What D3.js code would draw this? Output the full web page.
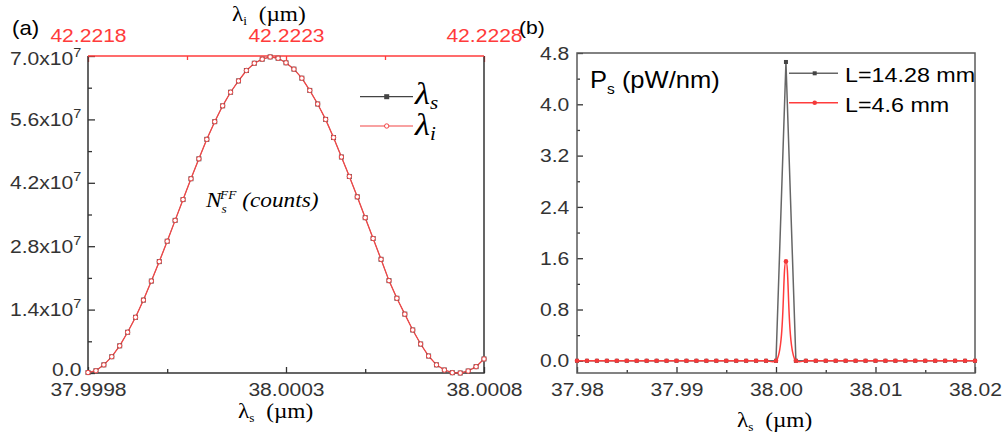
<!DOCTYPE html>
<html>
<head>
<meta charset="utf-8">
<script src="https://cdn.jsdelivr.net/npm/d3@7"></script>
<style>
  body { margin: 0; background: #fff; }
  svg text { white-space: pre; }
</style>
</head>
<body>
<svg id="fig" width="1006" height="441"></svg>
<script>
// ---------- Panel (a): far-field signal counts ----------
const sigStart = 37.9998;          // first signal wavelength (µm)
const idlStart = 42.2218;          // first idler wavelength (µm)
const gridStep = 0.00002;          // sampling step (µm)
const countsE7 = [0.01, 0.05, 0.18, 0.36, 0.60, 0.90, 1.23, 1.61, 2.03, 2.46,
                  2.91, 3.37, 3.83, 4.29, 4.73, 5.16, 5.55, 5.90, 6.20, 6.45,
                  6.68, 6.84, 6.93, 6.98, 6.95, 6.85, 6.71, 6.51, 6.24, 5.94,
                  5.60, 5.20, 4.77, 4.34, 3.89, 3.43, 2.97, 2.51, 2.04, 1.65,
                  1.30, 0.95, 0.64, 0.375, 0.18, 0.066, 0.007, 0.0, 0.044, 0.14,
                  0.31];
const sigTicksA = [37.9998, 38.0003, 38.0008];
const sigMinorA = [38.0000, 38.0005];
const idlTicksA = [42.2218, 42.2223, 42.2228];
const idlMinorA = [42.22205, 42.22255];
const yTicksA = [0, 1.4e7, 2.8e7, 4.2e7, 5.6e7, 7.0e7];
const yTickTextA = ["0.0", "1.4", "2.8", "4.2", "5.6", "7.0"];
const yMinorA = [0.7e7, 2.1e7, 3.5e7, 4.9e7, 6.3e7];

// ---------- Panel (b): signal power spectral density ----------
const psWl = [37.980, 37.981, 37.982, 37.983, 37.984, 37.985, 37.986, 37.987, 37.988, 37.989,
              37.990, 37.991, 37.992, 37.993, 37.994, 37.995, 37.996, 37.997, 37.998, 37.999,
              38.000, 38.001, 38.002, 38.003, 38.004, 38.005, 38.006, 38.007, 38.008, 38.009,
              38.010, 38.011, 38.012, 38.013, 38.014, 38.015, 38.016, 38.017, 38.018, 38.019,
              38.020];
const psLong  = [0,0,0,0,0,0,0,0,0,0, 0,0,0,0,0,0,0,0,0,0, 0,4.66,0,0,0,0,0,0,0,0, 0,0,0,0,0,0,0,0,0,0, 0];
const psShort = [0,0,0,0,0,0,0,0,0,0, 0,0,0,0,0,0,0,0,0,0, 0,1.55,0,0,0,0,0,0,0,0, 0,0,0,0,0,0,0,0,0,0, 0];
const xTicksB = [37.98, 37.99, 38.00, 38.01, 38.02];
const xMinorB = [37.985, 37.995, 38.005, 38.015];
const yTicksB = [0, 0.8, 1.6, 2.4, 3.2, 4.0, 4.8];
const yMinorB = [0.4, 1.2, 2.0, 2.8, 3.6, 4.4];
const legendB = ["L=14.28 mm", "L=4.6 mm"];

// ---------- styling ----------
const SANS = "'Liberation Sans', Arial, sans-serif";
const SERIF = "'Liberation Serif', 'DejaVu Serif', 'Times New Roman', serif";
const SX = 1.11;                 // horizontal text stretch of the figure
const RED = "#ff3b3b";
const RED_LINE = "#f24545";
const DARK = "#333";
const GREY = "#5a5a5a";

const svg = d3.select("#fig");
svg.append("rect").attr("width", 1006).attr("height", 441).attr("fill", "#fff");

function styleAxis(g, color, size) {
  g.select(".domain").remove();
  g.selectAll(".tick line").attr("stroke", color).attr("stroke-width", 1.3);
  g.selectAll(".tick text")
    .attr("fill", color)
    .attr("font-family", SANS)
    .attr("font-size", size)
    .attr("transform", `scale(${SX},1)`);
}

function label(x, y, parts, opts = {}) {
  const t = svg.append("text")
    .attr("transform", `translate(${x},${y}) scale(${SX},1)`)
    .attr("font-family", opts.family || SANS)
    .attr("font-size", opts.size || 18)
    .attr("font-style", opts.style || "normal")
    .attr("fill", opts.fill || "#000");
  parts.forEach(p => {
    t.append("tspan")
      .attr("dy", p.dy || 0)
      .attr("dx", p.dx || 0)
      .attr("font-size", p.size || null)
      .attr("font-style", p.style || null)
      .text(p.t);
  });
  return t;
}

// ================= Panel (a) =================
const xA = d3.scaleLinear().domain([sigStart, sigStart + gridStep * 50]).range([88, 484]);
const xAi = d3.scaleLinear().domain([idlStart, idlStart + gridStep * 50]).range([88, 484]);
const yA = d3.scaleLinear().domain([0, 7e7]).range([373, 56]);

const sigWl = countsE7.map((_, k) => sigStart + gridStep * k);
const idlWl = countsE7.map((_, k) => idlStart + gridStep * k);
const countsA = countsE7.map(v => v * 1e7);

// left axis
const gYA = svg.append("g").attr("transform", "translate(88,0)")
  .call(d3.axisLeft(yA).tickValues(yTicksA).tickSize(-7).tickPadding(6).tickFormat(""));
styleAxis(gYA, DARK, 19);
gYA.selectAll(".tick text").each(function (d, i) {
  const t = d3.select(this);
  t.append("tspan").text(yTickTextA[i]);
  if (d !== 0) {
    t.append("tspan").text("x10");
    t.append("tspan").attr("dy", -8).attr("font-size", 13).text("7");
  } else {
    t.attr("y", -4);          // zero label sits just above the corner
  }
  if (d === 7e7) t.attr("y", 2);
});
const gYAm = svg.append("g").attr("transform", "translate(88,0)")
  .call(d3.axisLeft(yA).tickValues(yMinorA).tickSize(-4).tickFormat(""));
styleAxis(gYAm, DARK, 19);

// bottom axis (signal)
const gXA = svg.append("g").attr("transform", "translate(0,373)")
  .call(d3.axisBottom(xA).tickValues(sigTicksA).tickSize(-6).tickPadding(10).tickFormat(d3.format(".4f")));
styleAxis(gXA, DARK, 19);
const gXAm = svg.append("g").attr("transform", "translate(0,373)")
  .call(d3.axisBottom(xA).tickValues(sigMinorA).tickSize(-4).tickFormat(""));
styleAxis(gXAm, DARK, 19);

// top axis (idler)
const gTA = svg.append("g").attr("transform", "translate(0,56)")
  .call(d3.axisTop(xAi).tickValues(idlTicksA).tickSize(-6).tickPadding(14).tickFormat(d3.format(".4f")));
styleAxis(gTA, RED, 19);
const gTAm = svg.append("g").attr("transform", "translate(0,56)")
  .call(d3.axisTop(xAi).tickValues(idlMinorA).tickSize(-4).tickFormat(""));
styleAxis(gTAm, RED, 19);

// frame
svg.append("path").attr("d", "M88,56V373H484V56").attr("fill", "none")
  .attr("stroke", DARK).attr("stroke-width", 1.5);
svg.append("line").attr("x1", 88).attr("x2", 484).attr("y1", 56).attr("y2", 56)
  .attr("stroke", RED).attr("stroke-width", 1.5);

// series (signal underneath, idler on top)
const lineSig = d3.line().x((d, i) => xA(sigWl[i])).y(d => yA(d));
const lineIdl = d3.line().x((d, i) => xAi(idlWl[i])).y(d => yA(d));
svg.append("path").datum(countsA).attr("d", lineSig).attr("fill", "none")
  .attr("stroke", "#444").attr("stroke-width", 0.6);
svg.append("path").datum(countsA).attr("d", lineIdl).attr("fill", "none")
  .attr("stroke", RED_LINE).attr("stroke-width", 1.3);
svg.append("g").selectAll("rect").data(countsA).join("rect")
  .attr("x", (d, i) => xA(sigWl[i]) - 2.5).attr("y", d => yA(d) - 2.5)
  .attr("width", 5).attr("height", 5).attr("fill", "#555");
svg.append("g").selectAll("circle").data(countsA).join("circle")
  .attr("cx", (d, i) => xAi(idlWl[i])).attr("cy", d => yA(d)).attr("r", 2.2)
  .attr("fill", "#fff").attr("stroke", RED_LINE).attr("stroke-width", 1);

// legend (a)
svg.append("line").attr("x1", 360).attr("x2", 413).attr("y1", 96.7).attr("y2", 96.7)
  .attr("stroke", "#444").attr("stroke-width", 1.2);
svg.append("rect").attr("x", 384.2).attr("y", 94.2).attr("width", 5).attr("height", 5).attr("fill", "#444");
svg.append("line").attr("x1", 360).attr("x2", 413).attr("y1", 126).attr("y2", 126)
  .attr("stroke", RED_LINE).attr("stroke-width", 1.2);
svg.append("circle").attr("cx", 386.7).attr("cy", 126).attr("r", 2.2)
  .attr("fill", "#fff").attr("stroke", RED_LINE);
label(415, 104, [{ t: "λ" }, { t: "s", size: 19, dy: 5 }], { family: SERIF, size: 31, style: "italic" });
label(415, 135, [{ t: "λ" }, { t: "i", size: 19, dy: 5 }], { family: SERIF, size: 31, style: "italic" });

// annotation
label(206, 207, [{ t: "N" }, { t: "s", size: 12, dy: 6 }, { t: "FF", size: 12, dy: -14, dx: -6 }, { t: " (counts)", dy: 8 }],
  { family: SERIF, size: 21, style: "italic" });

// titles
label(232, 21, [{ t: "λ" }, { t: "i", size: 12, dy: 4 }, { t: "  (µm)", dy: -4 }], { family: SERIF, size: 21 });
label(238, 418, [{ t: "λ" }, { t: "s", size: 12, dy: 4 }, { t: "  (µm)", dy: -4 }], { family: SERIF, size: 21 });
label(12, 35, [{ t: "(a)" }], { size: 20 });

// ================= Panel (b) =================
const xB = d3.scaleLinear().domain([37.98, 38.02]).range([577, 975]);
const yB = d3.scaleLinear().domain([-0.19, 4.8]).range([373, 53]);

const gYB = svg.append("g").attr("transform", "translate(577,0)")
  .call(d3.axisLeft(yB).tickValues(yTicksB).tickSize(-6).tickPadding(7).tickFormat(d3.format(".1f")));
styleAxis(gYB, DARK, 19);
const gYBm = svg.append("g").attr("transform", "translate(577,0)")
  .call(d3.axisLeft(yB).tickValues(yMinorB).tickSize(-3).tickFormat(""));
styleAxis(gYBm, DARK, 19);
const gXB = svg.append("g").attr("transform", "translate(0,373)")
  .call(d3.axisBottom(xB).tickValues(xTicksB).tickSize(-6).tickPadding(10).tickFormat(d3.format(".2f")));
styleAxis(gXB, DARK, 19);
const gXBm = svg.append("g").attr("transform", "translate(0,373)")
  .call(d3.axisBottom(xB).tickValues(xMinorB).tickSize(-3).tickFormat(""));
styleAxis(gXBm, DARK, 19);

svg.append("rect").attr("x", 577).attr("y", 53).attr("width", 398).attr("height", 320)
  .attr("fill", "none").attr("stroke", GREY).attr("stroke-width", 1.5);

const lineLong = d3.line().x((d, i) => xB(psWl[i])).y(d => yB(d));
const lineShort = d3.line().x((d, i) => xB(psWl[i])).y(d => yB(d)).curve(d3.curveCatmullRom);
svg.append("path").datum(psLong).attr("d", lineLong).attr("fill", "none")
  .attr("stroke", "#666").attr("stroke-width", 1.5);
svg.append("g").selectAll("rect").data(psLong).join("rect")
  .attr("x", (d, i) => xB(psWl[i]) - 2).attr("y", d => yB(d) - 2)
  .attr("width", 4).attr("height", 4).attr("fill", "#444");
svg.append("path").datum(psShort).attr("d", lineShort).attr("fill", "none")
  .attr("stroke", "#ff3c3c").attr("stroke-width", 1.5);
svg.append("g").selectAll("circle").data(psShort).join("circle")
  .attr("cx", (d, i) => xB(psWl[i])).attr("cy", d => yB(d)).attr("r", 2.3)
  .attr("fill", "#f23a3a");

// legend (b)
svg.append("line").attr("x1", 789).attr("x2", 838).attr("y1", 73.3).attr("y2", 73.3)
  .attr("stroke", "#666").attr("stroke-width", 1.5);
svg.append("rect").attr("x", 812.7).attr("y", 71.3).attr("width", 4).attr("height", 4).attr("fill", "#444");
svg.append("line").attr("x1", 789).attr("x2", 838).attr("y1", 102.7).attr("y2", 102.7)
  .attr("stroke", "#ff3c3c").attr("stroke-width", 1.5);
svg.append("circle").attr("cx", 814.7).attr("cy", 102.7).attr("r", 2.3).attr("fill", "#f23a3a");
label(845, 82, [{ t: legendB[0] }], { size: 21 });
label(845, 111.5, [{ t: legendB[1] }], { size: 21 });

label(590, 88, [{ t: "P" }, { t: "s", size: 14, dy: 6 }, { t: " (pW/nm)", dy: -6 }], { size: 23 });
label(737, 427, [{ t: "λ" }, { t: "s", size: 12, dy: 4 }, { t: "  (µm)", dy: -4 }], { family: SERIF, size: 21 });
label(519, 34, [{ t: "(b)" }], { size: 19 });
</script>
</body>
</html>
